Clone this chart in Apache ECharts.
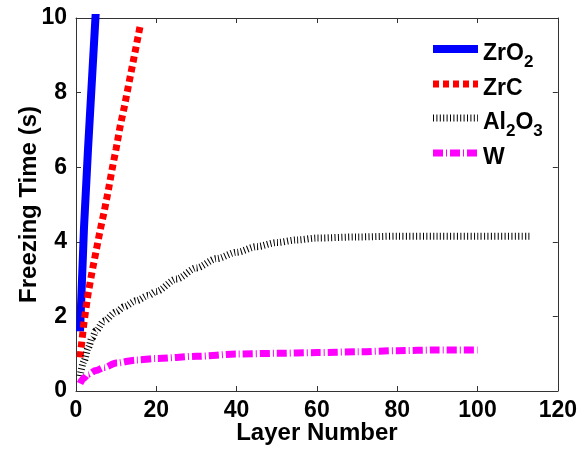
<!DOCTYPE html>
<html>
<head>
<meta charset="utf-8">
<script src="https://cdn.jsdelivr.net/npm/echarts@6/dist/echarts.min.js"></script>
<style>
  html, body { margin: 0; padding: 0; background: #fff; }
  #chart { width: 580px; height: 450px; }
</style>
</head>
<body>
<div id="chart"></div>
<script>
// Freezing time per layer for four coating materials
const seriesNames = ['ZrO2', 'ZrC', 'Al2O3', 'W'];

const layersZrO2 = [1, 2, 3, 4, 5];
const timeZrO2   = [1.6, 4.4, 6.5, 8.4, 10.3];

const layersZrC = [1, 2, 3, 4, 5, 6, 7, 8, 9, 10, 11, 12, 13, 14, 15, 16];
const timeZrC   = [0.9, 1.85, 2.6, 3.2, 3.75, 4.3, 4.8, 5.35, 5.95, 6.5, 7.1, 7.6, 8.15, 8.7, 9.25, 9.8];

const layersAl2O3 = [1, 2, 3, 4, 5, 7, 10, 12, 15, 18, 20, 25, 30, 35, 40, 45, 50, 55, 60, 70, 80, 90, 100, 113];
const timeAl2O3   = [0.4, 0.8, 1.15, 1.42, 1.62, 1.88, 2.12, 2.26, 2.42, 2.56, 2.67, 3.0, 3.3, 3.55, 3.72, 3.87, 3.98, 4.05, 4.1, 4.13, 4.15, 4.15, 4.15, 4.15];

const layersW = [1, 2, 3, 5, 7, 10, 15, 20, 30, 40, 50, 60, 70, 80, 90, 100];
const timeW   = [0.2, 0.35, 0.45, 0.55, 0.63, 0.75, 0.83, 0.87, 0.93, 0.99, 1.01, 1.03, 1.05, 1.08, 1.1, 1.1];

const xTicks = { min: 0, max: 120, interval: 20 };
const yTicks = { min: 0, max: 10, interval: 2 };

const pairs = (xs, ys) => xs.map((x, i) => [x, ys[i]]);

const FONT = '"Liberation Sans", Arial, sans-serif';
const AXIS_COLOR = '#333';

// Chemical formulas: main text plus lowered subscript digits, all rows the same height
const legendRich = {
  b: { fontFamily: FONT, fontWeight: 'bold', fontSize: 23, color: '#000', lineHeight: 24, padding: [5, 0, 5, 0], verticalAlign: 'top' },
  s: { fontFamily: FONT, fontWeight: 'bold', fontSize: 17, color: '#000', lineHeight: 17, padding: [17, 0, 0, 0], verticalAlign: 'top' }
};
const legendLabel = {
  'ZrO2': '{b|ZrO}{s|2}',
  'ZrC': '{b|ZrC}',
  'Al2O3': '{b|Al}{s|2}{b|O}{s|3}',
  'W': '{b|W}'
};

const chart = echarts.init(document.getElementById('chart'), null, { renderer: 'canvas' });

const baseX = {
  type: 'value', min: xTicks.min, max: xTicks.max, interval: xTicks.interval,
  axisLine: { show: true, onZero: false, lineStyle: { color: AXIS_COLOR, width: 1 } },
  axisTick: { show: true, inside: true, length: 5, lineStyle: { color: AXIS_COLOR } },
  splitLine: { show: false }
};
const baseY = {
  type: 'value', min: yTicks.min, max: yTicks.max, interval: yTicks.interval,
  axisLine: { show: true, onZero: false, lineStyle: { color: AXIS_COLOR, width: 1 } },
  axisTick: { show: true, inside: true, length: 5, lineStyle: { color: AXIS_COLOR } },
  splitLine: { show: false }
};

chart.setOption({
  backgroundColor: '#fff',
  animation: false,
  grid: { left: 76, right: 22, top: 18, bottom: 57 },
  xAxis: [
    Object.assign({}, baseX, {
      position: 'bottom',
      name: 'Layer Number', nameLocation: 'middle', nameGap: 30, nameMoveOverlap: false,
      nameTextStyle: { fontFamily: FONT, fontWeight: 'bold', fontSize: 24, color: '#000' },
      axisLabel: { fontFamily: FONT, fontWeight: 'bold', fontSize: 23, color: '#000', margin: 8 }
    }),
    Object.assign({}, baseX, { position: 'top', axisLabel: { show: false } })
  ],
  yAxis: [
    Object.assign({}, baseY, {
      position: 'left',
      name: 'Freezing Time (s)', nameLocation: 'middle', nameGap: 35, nameMoveOverlap: false,
      nameTextStyle: { fontFamily: FONT, fontWeight: 'bold', fontSize: 24, color: '#000' },
      axisLabel: { fontFamily: FONT, fontWeight: 'bold', fontSize: 23, color: '#000', margin: 9 }
    }),
    Object.assign({}, baseY, { position: 'right', axisLabel: { show: false } })
  ],
  legend: {
    orient: 'vertical', left: 424, top: 32,
    itemWidth: 45, itemHeight: 10, itemGap: 1,
    data: seriesNames,
    formatter: name => legendLabel[name],
    textStyle: { rich: legendRich },
    itemStyle: { opacity: 0 },
    lineStyle: { width: 'inherit', type: 'inherit', color: 'inherit' },
    selectedMode: false
  },
  series: [
    {
      name: 'ZrO2', type: 'line', data: pairs(layersZrO2, timeZrO2),
      showSymbol: false, symbol: 'none',
      lineStyle: { color: '#0000ff', width: 8, type: 'solid' },
      itemStyle: { color: '#0000ff' }
    },
    {
      name: 'ZrC', type: 'line', data: pairs(layersZrC, timeZrC),
      showSymbol: false, symbol: 'none',
      lineStyle: { color: '#ff0000', width: 7, type: [6, 4] },
      itemStyle: { color: '#ff0000' }
    },
    {
      name: 'Al2O3', type: 'line', data: pairs(layersAl2O3, timeAl2O3),
      showSymbol: false, symbol: 'none', smooth: 0.3, smoothMonotone: 'x',
      lineStyle: { color: '#000000', width: 7, type: [1, 2.4] },
      itemStyle: { color: '#000000' }
    },
    {
      name: 'W', type: 'line', data: pairs(layersW, timeW),
      showSymbol: false, symbol: 'none', smooth: 0.3, smoothMonotone: 'x',
      lineStyle: { color: '#ff00ff', width: 7, type: [10, 3, 1, 3] },
      itemStyle: { color: '#ff00ff' }
    }
  ]
});
</script>
</body>
</html>
